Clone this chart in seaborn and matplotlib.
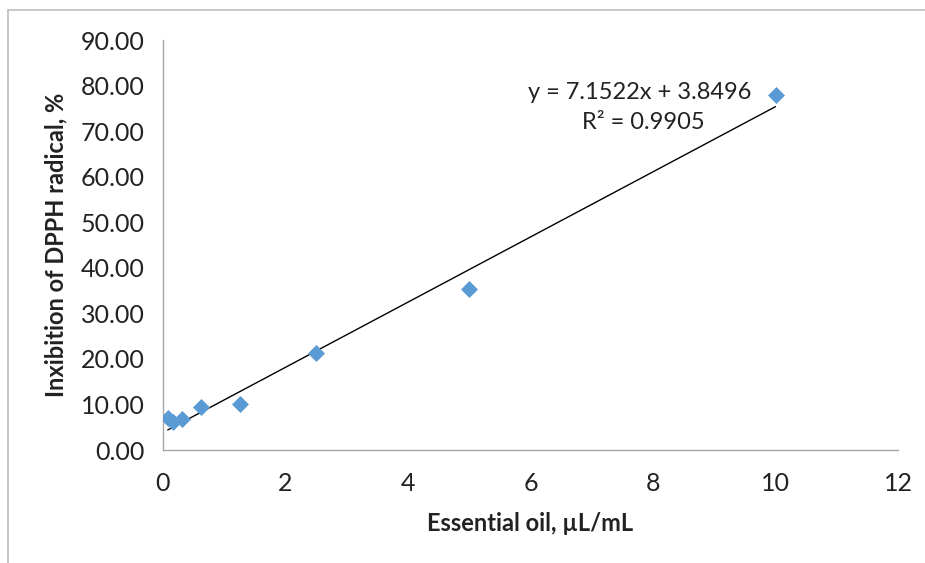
import matplotlib

matplotlib.use("Agg")

import matplotlib.pyplot as plt
import pandas as pd
import seaborn as sns
from matplotlib.lines import Line2D

# Essential oil concentration (uL/mL) and DPPH inhibition (%)
concentration = [0.078, 0.156, 0.3125, 0.625, 1.25, 2.5, 5.0, 10.0]
inhibition = [7.0, 6.2, 6.9, 9.5, 10.2, 21.2, 35.3, 78.0]
slope = 7.1522
intercept = 3.8496
r_squared = 0.9905
x_ticks = [0, 2, 4, 6, 8, 10, 12]
y_ticks = [0, 10, 20, 30, 40, 50, 60, 70, 80, 90]

frame = pd.DataFrame({"conc": concentration, "inhib": inhibition})

sns.set_theme(style="white")
plt.rcParams["font.family"] = ["Lato", "DejaVu Sans"]

fig = plt.figure(figsize=(9.25, 5.63), dpi=100)
ax = fig.add_axes([163 / 925, 1 - 450 / 563, 735 / 925, 410 / 563])

trend_x = [min(concentration), max(concentration)]
trend_y = [slope * v + intercept for v in trend_x]
ax.plot(trend_x, trend_y, color="black", linewidth=1.0, zorder=2)

sns.scatterplot(
    data=frame,
    x="conc",
    y="inhib",
    marker="D",
    s=75,
    color="#5B9BD5",
    edgecolor="#5B9BD5",
    linewidth=0,
    ax=ax,
    zorder=3,
)

ax.set_xlim(0, 12)
ax.set_ylim(0, 90)
ax.set_xticks(x_ticks)
ax.set_yticks(y_ticks)
ax.set_yticklabels([f"{v:.2f}" for v in y_ticks])
ax.tick_params(axis="both", labelsize=18, labelcolor="#222222", length=6, width=1,
               direction="out", color="#A6A6A6")
ax.tick_params(axis="x", pad=10)
ax.tick_params(axis="y", pad=7)
for side in ("top", "right"):
    ax.spines[side].set_visible(False)
for side in ("left", "bottom"):
    ax.spines[side].set_color("#A6A6A6")
    ax.spines[side].set_linewidth(1.0)

ax.set_xlabel("Essential oil, µL/mL", fontsize=17, fontweight="bold", labelpad=12,
              color="#222222")
ax.set_ylabel("Inxibition of DPPH radical, %", fontsize=17, fontweight="bold",
              labelpad=10, color="#222222")

ax.text(7.79, 78.4, f"y = {slope}x + {intercept}", fontsize=17, ha="center",
        va="center", color="#222222")
ax.text(7.85, 71.8, f"R² = {r_squared}", fontsize=17, ha="center",
        va="center", color="#222222")

# outer chart frame (only top and left edges are visible in the crop)
fig.add_artist(Line2D([8 / 925, 1.0], [1 - 10 / 563] * 2, color="#BFBFBF",
                      linewidth=1.2, transform=fig.transFigure))
fig.add_artist(Line2D([8 / 925] * 2, [0.0, 1 - 10 / 563], color="#BFBFBF",
                      linewidth=1.2, transform=fig.transFigure))

fig.savefig("out.png", dpi=100)
plt.close(fig)
